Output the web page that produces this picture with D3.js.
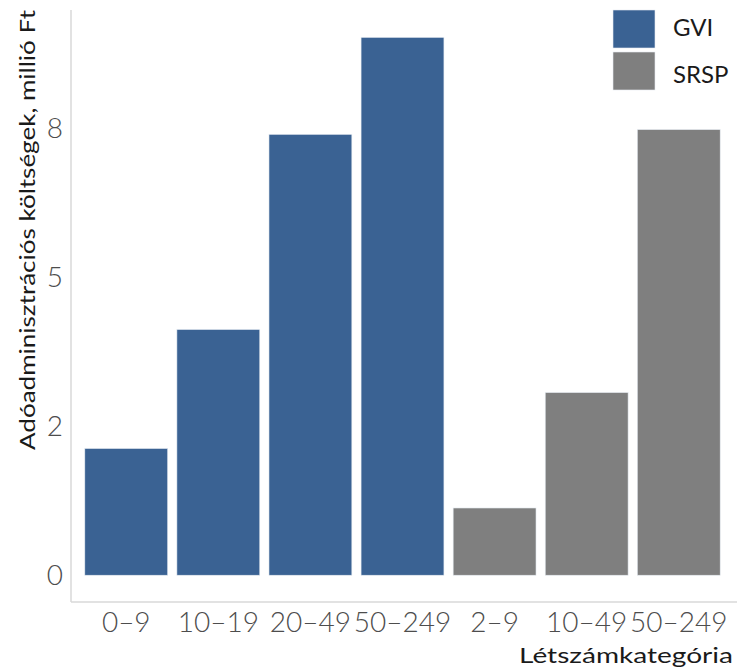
<!DOCTYPE html>
<html>
<head>
<meta charset="utf-8">
<script src="https://cdn.jsdelivr.net/npm/d3@7"></script>
<style>
  body { margin: 0; background: #fff; }
  text { font-family: Lato, "Open Sans", sans-serif; }
</style>
</head>
<body>
<div id="viz"></div>
<script>
// chart data
const SERIES = ["GVI", "SRSP"];
const GROUPS = ["GVI", "GVI", "GVI", "GVI", "SRSP", "SRSP", "SRSP"];
const LABELS = ["0–9", "10–19", "20–49", "50–249", "2–9", "10–49", "50–249"];
const VALUES = [2.13, 4.13, 7.41, 9.04, 1.13, 3.07, 7.49];
const Y_TICKS = [0, 2.5, 5, 7.5];
const Y_TICK_LABELS = ["0", "2", "5", "8"];

const F_WIDTH = 737;
const F_HEIGHT = 668;
const PANEL = {left: 71, right: 734, top: 10, bottom: 602};

const FRAME = d3.select("#viz")
  .append("svg")
    .attr("width", F_WIDTH)
    .attr("height", F_HEIGHT);

const data = VALUES.map((v, i) => ({id: i, label: LABELS[i], group: GROUPS[i], value: v}));

const X_SCALE = d3.scaleBand()
  .domain(data.map(d => d.id))
  .range([PANEL.left, PANEL.right])
  .paddingInner(0.1)
  .paddingOuter(0.15);

const Y_SCALE = d3.scaleLinear()
  .domain([-0.45, 9.5])
  .range([PANEL.bottom, PANEL.top]);

const COLOR = d3.scaleOrdinal()
  .domain(SERIES)
  .range(["#3a6293", "#7f7f7f"]);

// bars
FRAME.selectAll(".bar")
  .data(data)
  .enter()
  .append("rect")
    .attr("class", "bar")
    .attr("x", d => X_SCALE(d.id))
    .attr("y", d => Y_SCALE(d.value))
    .attr("width", X_SCALE.bandwidth())
    .attr("height", d => Y_SCALE(0) - Y_SCALE(d.value))
    .style("fill", d => COLOR(d.group))
    .style("stroke", "#e6ecf2")
    .style("stroke-width", 0.6);

// axis lines
FRAME.append("line")
  .attr("x1", PANEL.left).attr("x2", PANEL.left)
  .attr("y1", PANEL.top).attr("y2", PANEL.bottom)
  .style("stroke", "#d9d9d9").style("stroke-width", 1.5);
FRAME.append("line")
  .attr("x1", PANEL.left).attr("x2", F_WIDTH)
  .attr("y1", PANEL.bottom).attr("y2", PANEL.bottom)
  .style("stroke", "#d9d9d9").style("stroke-width", 1.5);

// x axis
const xAxis = FRAME.append("g")
  .attr("transform", "translate(0," + PANEL.bottom + ")")
  .call(d3.axisBottom(X_SCALE).tickSize(0).tickPadding(10).tickFormat(i => LABELS[i]));
xAxis.select(".domain").remove();
xAxis.selectAll("text")
  .style("font-family", "Lato, sans-serif")
  .style("font-weight", 300)
  .style("font-size", "28px")
  .style("fill", "#4d4d4d");

// y axis
const yAxis = FRAME.append("g")
  .attr("transform", "translate(" + PANEL.left + ",0)")
  .call(d3.axisLeft(Y_SCALE).tickValues(Y_TICKS).tickSize(0).tickPadding(8)
    .tickFormat((d, i) => Y_TICK_LABELS[i]));
yAxis.select(".domain").remove();
yAxis.selectAll("text")
  .style("font-family", "Lato, sans-serif")
  .style("font-weight", 300)
  .style("font-size", "28px")
  .style("fill", "#4d4d4d");

// axis titles
FRAME.append("text")
  .attr("transform", "translate(35," + PANEL.top + ") rotate(-90)")
  .attr("text-anchor", "end")
  .attr("textLength", 440)
  .attr("lengthAdjust", "spacingAndGlyphs")
  .style("font-size", "22px")
  .style("fill", "#1a1a1a")
  .text("Adóadminisztrációs költségek, millió Ft");

FRAME.append("text")
  .attr("x", 733)
  .attr("y", 663)
  .attr("text-anchor", "end")
  .attr("textLength", 214)
  .attr("lengthAdjust", "spacingAndGlyphs")
  .style("font-size", "22px")
  .style("fill", "#1a1a1a")
  .text("Létszámkategória");

// legend
const legend = FRAME.selectAll(".legend")
  .data(SERIES)
  .enter()
  .append("g")
    .attr("class", "legend");
legend.append("rect")
  .attr("x", 613)
  .attr("y", (d, i) => 10 + i * 42)
  .attr("width", 42)
  .attr("height", 38)
  .style("fill", d => COLOR(d))
  .style("stroke", "#e6ecf2")
  .style("stroke-width", 0.6);
legend.append("text")
  .attr("x", 673)
  .attr("y", (d, i) => 36 + i * 47)
  .style("font-size", "24px")
  .style("fill", "#1a1a1a")
  .text(d => d);
</script>
</body>
</html>
